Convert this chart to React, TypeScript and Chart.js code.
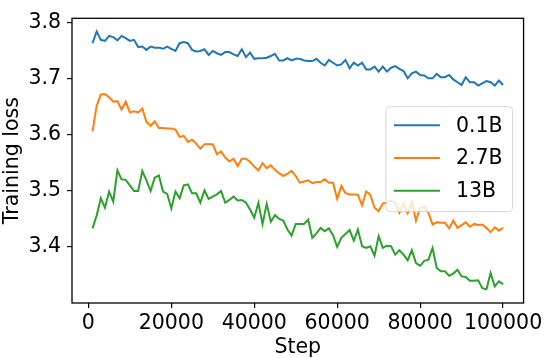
import React, { useEffect, useRef } from "react";
import { Chart, registerables } from "chart.js";

Chart.register(...registerables);

// Training steps (every 1000 steps)
const steps: number[] = Array.from({ length: 100 }, (_, i) => (i + 1) * 1000);

const loss01B = [
  3.764, 3.785, 3.770, 3.768, 3.777, 3.775, 3.769, 3.777, 3.773, 3.768,
  3.770, 3.757, 3.758, 3.752, 3.758, 3.756, 3.756, 3.754, 3.758, 3.754,
  3.750, 3.764, 3.766, 3.764, 3.752, 3.749, 3.750, 3.753, 3.743, 3.750,
  3.746, 3.743, 3.748, 3.748, 3.744, 3.741, 3.753, 3.739, 3.747, 3.736,
  3.737, 3.737, 3.738, 3.741, 3.745, 3.733, 3.733, 3.737, 3.733, 3.736,
  3.736, 3.733, 3.732, 3.732, 3.736, 3.729, 3.724, 3.734, 3.729, 3.724,
  3.726, 3.734, 3.719, 3.729, 3.724, 3.729, 3.717, 3.717, 3.722, 3.713,
  3.722, 3.713, 3.720, 3.723, 3.718, 3.714, 3.701, 3.710, 3.713, 3.707,
  3.706, 3.701, 3.701, 3.709, 3.703, 3.703, 3.707, 3.699, 3.694, 3.689,
  3.703, 3.694, 3.694, 3.688, 3.692, 3.696, 3.694, 3.688, 3.697, 3.689,
];

const loss27B = [
  3.606, 3.652, 3.672, 3.673, 3.667, 3.659, 3.660, 3.645, 3.659, 3.640,
  3.642, 3.640, 3.647, 3.623, 3.616, 3.624, 3.612, 3.612, 3.611, 3.611,
  3.609, 3.596, 3.598, 3.587, 3.591, 3.584, 3.575, 3.583, 3.583, 3.583,
  3.565, 3.570, 3.559, 3.552, 3.557, 3.544, 3.557, 3.557, 3.551, 3.543,
  3.536, 3.549, 3.540, 3.545, 3.537, 3.531, 3.526, 3.530, 3.535, 3.526,
  3.514, 3.516, 3.518, 3.513, 3.515, 3.515, 3.520, 3.514, 3.514, 3.485,
  3.508, 3.495, 3.493, 3.493, 3.492, 3.473, 3.498, 3.492, 3.469, 3.463,
  3.477, 3.478, 3.482, 3.478, 3.460, 3.476, 3.459, 3.480, 3.446, 3.469,
  3.471, 3.460, 3.439, 3.443, 3.442, 3.442, 3.432, 3.446, 3.433, 3.438,
  3.443, 3.435, 3.440, 3.438, 3.439, 3.433, 3.425, 3.434, 3.428, 3.433,
];

const loss13B = [
  3.432, 3.455, 3.486, 3.469, 3.498, 3.480, 3.536, 3.520, 3.519, 3.509,
  3.499, 3.499, 3.535, 3.518, 3.499, 3.523, 3.527, 3.498, 3.494, 3.468,
  3.498, 3.486, 3.509, 3.511, 3.495, 3.495, 3.478, 3.500, 3.485, 3.489,
  3.493, 3.499, 3.478, 3.483, 3.489, 3.482, 3.483, 3.478, 3.466, 3.451,
  3.478, 3.440, 3.476, 3.444, 3.456, 3.449, 3.446, 3.430, 3.419, 3.440,
  3.440, 3.440, 3.448, 3.415, 3.423, 3.433, 3.427, 3.432, 3.420, 3.399,
  3.415, 3.422, 3.429, 3.410, 3.430, 3.400, 3.397, 3.400, 3.383, 3.418,
  3.397, 3.401, 3.400, 3.385, 3.393, 3.385, 3.375, 3.393, 3.370, 3.365,
  3.374, 3.376, 3.397, 3.361, 3.355, 3.355, 3.347, 3.351, 3.358, 3.346,
  3.345, 3.338, 3.338, 3.339, 3.325, 3.323, 3.352, 3.328, 3.337, 3.332,
];

const seriesLabels = ["0.1B", "2.7B", "13B"];
const seriesColors = ["#1f77b4", "#ff7f0e", "#2ca02c"];
const xTicks = [0, 20000, 40000, 60000, 80000, 100000];
const yTicks = [3.4, 3.5, 3.6, 3.7, 3.8];
const xTitle = "Step";
const yTitle = "Training loss";

const FONT = "'DejaVu Sans', sans-serif";
const FONT_SIZE = 20.5;

export default function App() {
  const ref = useRef<HTMLCanvasElement>(null);

  useEffect(() => {
    document.body.style.margin = "0";
    const canvas = ref.current!;
    const seriesValues = [loss01B, loss27B, loss13B];

    const framePlugin = {
      id: "frameAndLegend",
      afterDatasetsDraw(chart: any) {
        const { ctx, chartArea } = chart;
        const { left, right, top, bottom } = chartArea;
        ctx.save();
        // axes frame
        ctx.strokeStyle = "#000";
        ctx.lineWidth = 1.3;
        ctx.strokeRect(left, top, right - left, bottom - top);

        // legend (center right)
        ctx.font = `${FONT_SIZE}px ${FONT}`;
        const textW = Math.max(
          ...chart.data.datasets.map((d: any) => ctx.measureText(d.label).width)
        );
        const padL = 8;
        const handleLen = 46;
        const gap = 16;
        const padR = 10;
        const rowH = 32.7;
        const boxW = padL + handleLen + gap + textW + padR;
        const boxH = 105;
        const boxR = right - 11;
        const boxX = boxR - boxW;
        const boxY = (top + bottom) / 2 - boxH / 2 - 1.5;
        const r = 4;
        ctx.beginPath();
        ctx.moveTo(boxX + r, boxY);
        ctx.lineTo(boxX + boxW - r, boxY);
        ctx.quadraticCurveTo(boxX + boxW, boxY, boxX + boxW, boxY + r);
        ctx.lineTo(boxX + boxW, boxY + boxH - r);
        ctx.quadraticCurveTo(boxX + boxW, boxY + boxH, boxX + boxW - r, boxY + boxH);
        ctx.lineTo(boxX + r, boxY + boxH);
        ctx.quadraticCurveTo(boxX, boxY + boxH, boxX, boxY + boxH - r);
        ctx.lineTo(boxX, boxY + r);
        ctx.quadraticCurveTo(boxX, boxY, boxX + r, boxY);
        ctx.closePath();
        ctx.fillStyle = "rgba(255,255,255,0.8)";
        ctx.fill();
        ctx.strokeStyle = "rgba(204,204,204,0.8)";
        ctx.lineWidth = 1;
        ctx.stroke();

        chart.data.datasets.forEach((d: any, i: number) => {
          const cy = boxY + 18.7 + i * rowH;
          ctx.strokeStyle = d.borderColor;
          ctx.lineWidth = 2;
          ctx.beginPath();
          ctx.moveTo(boxX + padL, cy);
          ctx.lineTo(boxX + padL + handleLen, cy);
          ctx.stroke();
          ctx.fillStyle = "#000";
          ctx.textBaseline = "middle";
          ctx.textAlign = "left";
          ctx.fillText(d.label, boxX + padL + handleLen + gap, cy + 1);
        });
        ctx.restore();
      },
    };

    const chart = new Chart(canvas, {
      type: "line",
      data: {
        datasets: seriesValues.map((vals, i) => ({
          label: seriesLabels[i],
          data: steps.map((s, j) => ({ x: s, y: vals[j] })),
          borderColor: seriesColors[i],
          backgroundColor: seriesColors[i],
          borderWidth: 2,
          pointRadius: 0,
          tension: 0,
          fill: false,
        })),
      },
      options: {
        animation: false,
        responsive: false,
        devicePixelRatio: 1,
        layout: { padding: { top: 5, right: 18, left: 0, bottom: 0 } },
        plugins: {
          legend: { display: false },
          tooltip: { enabled: false },
        },
        scales: {
          x: {
            type: "linear",
            min: -3950,
            max: 104950,
            afterFit: (scale: any) => {
              scale.height = 55;
            },
            afterBuildTicks: (scale: any) => {
              scale.ticks = xTicks.map((v) => ({ value: v }));
            },
            grid: {
              drawOnChartArea: false,
              drawTicks: true,
              tickLength: 5,
              color: "#000",
              lineWidth: 1.2,
            },
            border: { display: false },
            ticks: {
              color: "#000",
              font: { family: FONT, size: FONT_SIZE },
              padding: 3,
              maxRotation: 0,
              autoSkip: false,
              callback: (v: any) => String(v),
            },
            title: {
              display: true,
              text: xTitle,
              color: "#000",
              font: { family: FONT, size: FONT_SIZE, lineHeight: 1 },
              padding: { top: 0, bottom: 0 },
            },
          },
          y: {
            type: "linear",
            min: 3.2983,
            max: 3.8086,
            afterFit: (scale: any) => {
              scale.width = 72;
            },
            afterBuildTicks: (scale: any) => {
              scale.ticks = yTicks.map((v) => ({ value: v }));
            },
            grid: {
              drawOnChartArea: false,
              drawTicks: true,
              tickLength: 5,
              color: "#000",
              lineWidth: 1.2,
            },
            border: { display: false },
            ticks: {
              color: "#000",
              font: { family: FONT, size: FONT_SIZE },
              padding: 6,
              autoSkip: false,
              callback: (v: any) => Number(v).toFixed(1),
            },
            title: {
              display: true,
              text: yTitle,
              color: "#000",
              font: { family: FONT, size: FONT_SIZE },
              padding: { top: 0, bottom: 0 },
            },
          },
        },
      },
      plugins: [framePlugin],
    } as any);

    return () => chart.destroy();
  }, []);

  return (
    <div style={{ position: "absolute", left: 0, top: 0, width: 546, height: 358 }}>
      <canvas
        ref={ref}
        width={546}
        height={358}
        style={{ width: 546, height: 358, display: "block" }}
      />
    </div>
  );
}
